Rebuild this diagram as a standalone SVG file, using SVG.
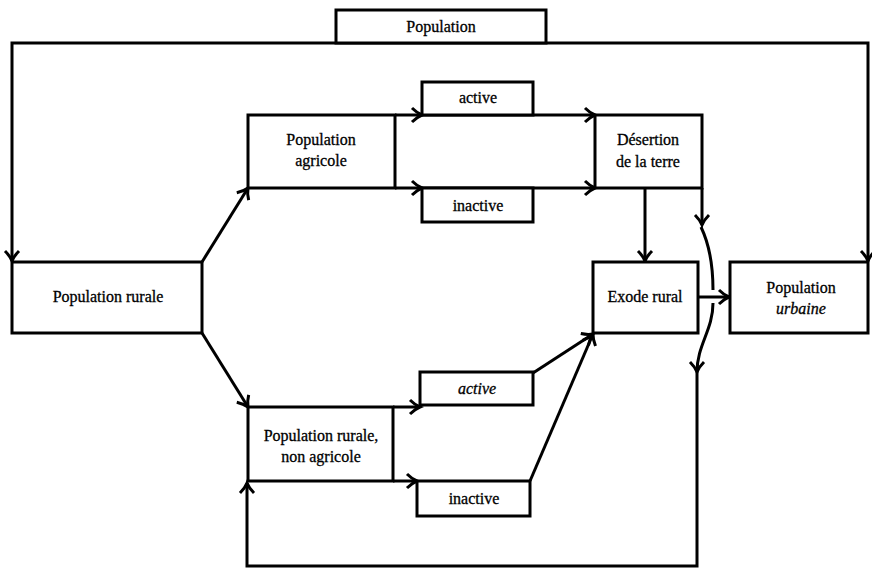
<svg xmlns="http://www.w3.org/2000/svg" width="872" height="571" viewBox="0 0 872 571">
<defs>
<style>
.box{fill:#fff;stroke:#000;stroke-width:3}
text{font-family:'Liberation Serif','DejaVu Serif','Times New Roman',serif;font-size:16px;fill:#000;stroke:#000;stroke-width:0.3;text-anchor:middle}
.i{font-style:italic}
.c{fill:none;stroke:#000;stroke-width:3;stroke-linejoin:miter}
</style>
<marker id="arr" markerWidth="18" markerHeight="18" viewBox="-13 -9 18 18" refX="0" refY="0" orient="auto" markerUnits="userSpaceOnUse">
<path d="M-10,-7 Q-5,-2 0,0 Q-5,2 -10,7" fill="none" stroke="#000" stroke-width="3"/>
</marker>
</defs>
<rect width="872" height="571" fill="#fff"/>
<g id="connectors">
<path class="c" d="M441 43 H12 V261" marker-end="url(#arr)"/>
<path class="c" d="M441 43 H868 V261" marker-end="url(#arr)"/>
<path class="c" d="M202 262 L248 188" marker-end="url(#arr)"/>
<path class="c" d="M202 333 L248 407" marker-end="url(#arr)"/>
<path class="c" d="M395 115 H422" marker-end="url(#arr)"/>
<path class="c" d="M422 115 H595" marker-end="url(#arr)"/>
<path class="c" d="M395 188 H422" marker-end="url(#arr)"/>
<path class="c" d="M422 188 H595" marker-end="url(#arr)"/>
<path class="c" d="M645 188 V261" marker-end="url(#arr)"/>
<path class="c" d="M702 188 V225" marker-end="url(#arr)"/>
<path class="c" d="M701 227 Q713 252 713 290"/>
<path class="c" d="M698 297 H729" marker-end="url(#arr)"/>
<path class="c" d="M713 303 C713 330 697 345 697 372" marker-end="url(#arr)"/>
<path class="c" d="M697 372 V566 H247 V483" marker-end="url(#arr)"/>
<path class="c" d="M393 407 H420" marker-end="url(#arr)"/>
<path class="c" d="M393 481 H417" marker-end="url(#arr)"/>
<path class="c" d="M533 373 L593 334" marker-end="url(#arr)"/>
<path class="c" d="M530 481 L593 334" marker-end="url(#arr)"/>
</g>
<g id="n-population">
<rect class="box" x="336" y="10" width="210" height="33"/>
<text x="441" y="32">Population</text>
</g>
<g id="n-pop-rurale">
<rect class="box" x="12" y="262" width="190" height="71"/>
<text x="108" y="302">Population rurale</text>
</g>
<g id="n-pop-agricole">
<rect class="box" x="248" y="115" width="147" height="73"/>
<text x="321" y="145">Population</text>
<text x="321" y="166">agricole</text>
</g>
<g id="n-active-1">
<rect class="box" x="422" y="82" width="111" height="33"/>
<text x="478" y="103">active</text>
</g>
<g id="n-inactive-1">
<rect class="box" x="422" y="188" width="111" height="34"/>
<text x="478" y="211">inactive</text>
</g>
<g id="n-desertion">
<rect class="box" x="595" y="115" width="107" height="73"/>
<text x="648" y="145">Désertion</text>
<text x="648" y="167">de la terre</text>
</g>
<g id="n-exode">
<rect class="box" x="593" y="262" width="105" height="71"/>
<text x="645" y="302">Exode rural</text>
</g>
<g id="n-pop-urbaine">
<rect class="box" x="730" y="262" width="138" height="71"/>
<text x="801" y="293">Population</text>
<text class="i" x="801" y="314">urbaine</text>
</g>
<g id="n-pop-non-agricole">
<rect class="box" x="248" y="407" width="145" height="74"/>
<text x="321" y="441">Population rurale,</text>
<text x="321" y="462">non agricole</text>
</g>
<g id="n-active-2">
<rect class="box" x="420" y="372" width="113" height="33"/>
<text class="i" x="477" y="394">active</text>
</g>
<g id="n-inactive-2">
<rect class="box" x="417" y="481" width="113" height="35"/>
<text x="474" y="504">inactive</text>
</g>
</svg>
